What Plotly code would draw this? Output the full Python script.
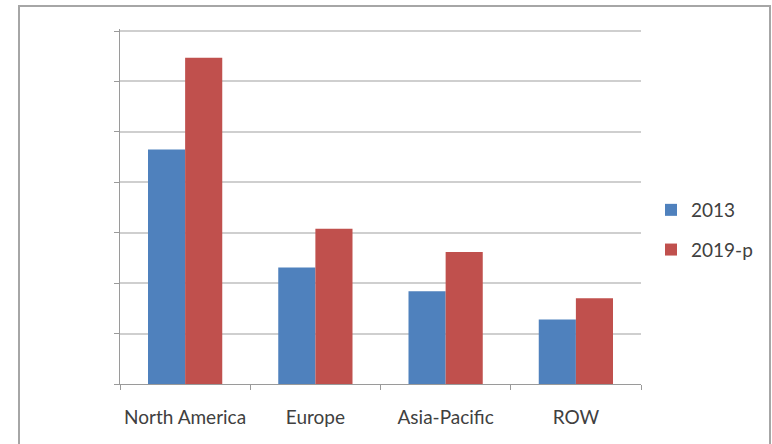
import plotly.graph_objects as go

# Regional values for the two periods
regions = ["North America", "Europe", "Asia-Pacific", "ROW"]
values_2013 = [4.65, 2.31, 1.84, 1.28]
values_2019p = [6.47, 3.08, 2.62, 1.70]
series_names = ["2013", "2019-p"]
series_colors = ["#4F81BD", "#C0504D"]
y_top = 7.04

W, H = 772, 444
L, R, T, B = 120, 131, 29, 60   # plot area spans x 120..641, baseline at y 384

fig = go.Figure()
for name, vals, col in zip(series_names, [values_2013, values_2019p], series_colors):
    fig.add_trace(go.Bar(
        x=regions, y=vals, name=name, legendgroup=name,
        marker=dict(color=col, line=dict(width=0)),
    ))

pw, ph = W - L - R, H - T - B
def px_x(px):
    return (px - L) / pw
def px_y(py):
    return (H - B - py) / ph

# outer chart frame
fig.add_shape(type="rect", xref="paper", yref="paper",
              x0=px_x(19), x1=px_x(770), y0=px_y(450), y1=px_y(6),
              line=dict(color="#a6a6a6", width=2), fillcolor="rgba(0,0,0,0)")

fig.update_layout(
    width=W, height=H,
    margin=dict(l=L, r=R, t=T, b=B, autoexpand=False),
    paper_bgcolor="white", plot_bgcolor="white",
    barmode="group", bargap=0.43, bargroupgap=0,
    font=dict(family="Lato, Calibri, Arial, sans-serif", size=19, color="#404040"),
    showlegend=True,
    legend=dict(x=px_x(651), xanchor="left", y=px_y(230), yanchor="middle",
                traceorder="grouped", tracegroupgap=12,
                font=dict(size=19, color="#404040"),
                bgcolor="rgba(0,0,0,0)", borderwidth=0),
    xaxis=dict(
        showline=True, linecolor="#9a9a9a", linewidth=1,
        ticks="outside", tickson="boundaries", ticklen=5, tickcolor="#9a9a9a",
        showgrid=False, ticklabelstandoff=16, tickangle=0, automargin=False,
        tickfont=dict(size=19, color="#404040"),
    ),
    yaxis=dict(
        range=[0, y_top], tick0=0, dtick=1, showticklabels=False,
        showline=True, linecolor="#9a9a9a", linewidth=1,
        ticks="outside", ticklen=5, tickcolor="#9a9a9a",
        showgrid=True, gridcolor="#cfcfcf", gridwidth=2,
        zeroline=False, automargin=False,
    ),
)

fig.write_html("out.html")
